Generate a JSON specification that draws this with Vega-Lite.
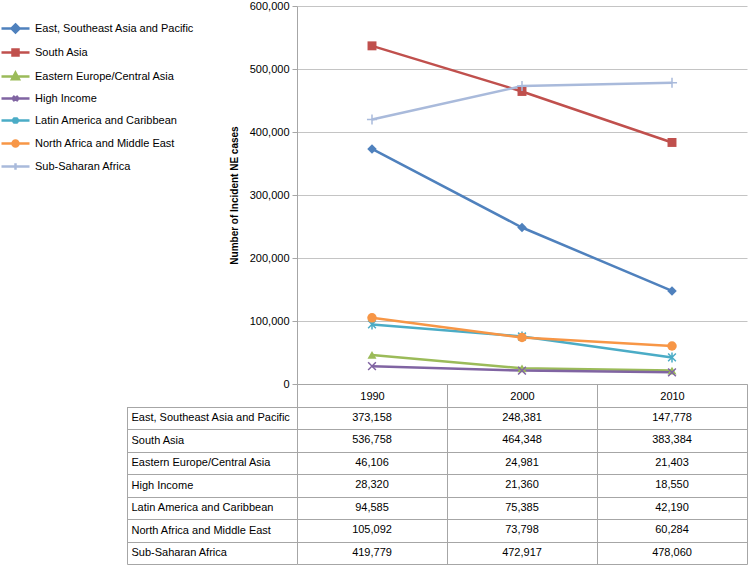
{
  "$schema": "https://vega.github.io/schema/vega-lite/v6.json",
  "width": 450,
  "height": 558,
  "padding": 0,
  "background": "white",
  "config": {
    "view": {"stroke": null},
    "font": "Liberation Sans"
  },
  "data": {
    "values": [
      {"region": "East, Southeast Asia and Pacific", "year": "1990", "cases": 373158},
      {"region": "East, Southeast Asia and Pacific", "year": "2000", "cases": 248381},
      {"region": "East, Southeast Asia and Pacific", "year": "2010", "cases": 147778},
      {"region": "South Asia", "year": "1990", "cases": 536758},
      {"region": "South Asia", "year": "2000", "cases": 464348},
      {"region": "South Asia", "year": "2010", "cases": 383384},
      {"region": "Eastern Europe/Central Asia", "year": "1990", "cases": 46106},
      {"region": "Eastern Europe/Central Asia", "year": "2000", "cases": 24981},
      {"region": "Eastern Europe/Central Asia", "year": "2010", "cases": 21403},
      {"region": "High Income", "year": "1990", "cases": 28320},
      {"region": "High Income", "year": "2000", "cases": 21360},
      {"region": "High Income", "year": "2010", "cases": 18550},
      {"region": "Latin America and Caribbean", "year": "1990", "cases": 94585},
      {"region": "Latin America and Caribbean", "year": "2000", "cases": 75385},
      {"region": "Latin America and Caribbean", "year": "2010", "cases": 42190},
      {"region": "North Africa and Middle East", "year": "1990", "cases": 105092},
      {"region": "North Africa and Middle East", "year": "2000", "cases": 73798},
      {"region": "North Africa and Middle East", "year": "2010", "cases": 60284},
      {"region": "Sub-Saharan Africa", "year": "1990", "cases": 419779},
      {"region": "Sub-Saharan Africa", "year": "2000", "cases": 472917},
      {"region": "Sub-Saharan Africa", "year": "2010", "cases": 478060}
    ]
  },
  "layer": [
    {
      "encoding": {
        "x": {
          "field": "year", "type": "nominal",
          "scale": {"type": "band", "paddingInner": 0, "paddingOuter": 0},
          "axis": {
            "orient": "bottom", "offset": -180, "tickBand": "extent", "tickSize": 180,
            "tickColor": "#a6a6a6", "domainColor": "#a6a6a6", "labelPadding": -168,
            "labelBaseline": "middle", "labelAngle": 0, "labelFontSize": 11, "labelColor": "#000",
            "title": null, "grid": false
          }
        },
        "y": {
          "field": "cases", "type": "quantitative",
          "scale": {"domain": [0, 600000], "range": [378, 0], "nice": false},
          "axis": {
            "orient": "left", "values": [0, 100000, 200000, 300000, 400000, 500000, 600000],
            "format": ",.0f", "grid": true, "gridColor": "#c4c4c4", "domainColor": "#a6a6a6",
            "tickColor": "#a6a6a6", "tickSize": 5, "labelFontSize": 11, "labelColor": "#000",
            "labelPadding": 3, "title": "Number of Incident NE cases", "titleFontSize": 10,
            "titleFontWeight": "bold", "titleColor": "#000", "titlePadding": 10
          }
        },
        "color": {
          "field": "region", "type": "nominal",
          "scale": {
            "domain": ["East, Southeast Asia and Pacific", "South Asia", "Eastern Europe/Central Asia", "High Income", "Latin America and Caribbean", "North Africa and Middle East", "Sub-Saharan Africa"],
            "range": ["#4F81BD", "#C0504D", "#9BBB59", "#8064A2", "#4BACC6", "#F79646", "#A9BADB"]
          },
          "legend": {
            "orient": "none", "legendX": -297, "legendY": 16, "title": null,
            "labelFont": "Liberation Sans", "labelFontSize": 11, "labelColor": "#000",
            "symbolSize": 100, "symbolStrokeWidth": 2.5, "symbolOpacity": 1,
            "rowPadding": 6, "labelOffset": 22
          }
        }
      },
      "layer": [
        {"mark": {"type": "line", "strokeWidth": 2.5}},
        {
          "mark": {"type": "point", "filled": true, "size": 100, "opacity": 0},
          "encoding": {
            "shape": {
              "field": "region", "type": "nominal",
              "scale": {
                "domain": ["East, Southeast Asia and Pacific", "South Asia", "Eastern Europe/Central Asia", "High Income", "Latin America and Caribbean", "North Africa and Middle East", "Sub-Saharan Africa"],
                "range": [
                  "M-1,0L4.6,0M1.8,-0.8L2.6,0L1.8,0.8L1,0Z",
                  "M-1,0L4.6,0M1.2,-0.6L2.4,-0.6L2.4,0.6L1.2,0.6Z",
                  "M-1,0L4.6,0M1.8,-0.75L2.5,0.55L1.1,0.55Z",
                  "M-1,0L4.6,0M1.3,-0.5L2.3,0.5M1.3,0.5L2.3,-0.5",
                  "M-1,0L4.6,0M1.3,-0.5L2.3,0.5M1.3,0.5L2.3,-0.5M1.8,-0.65L1.8,0.65",
                  "M-1,0L4.6,0M1.2,0A0.6,0.6,0,1,0,2.4,0A0.6,0.6,0,1,0,1.2,0Z",
                  "M-1,0L4.6,0M1.8,-0.65L1.8,0.65"
                ]
              }
            }
          }
        },
        {
          "transform": [{"filter": "datum.region === 'East, Southeast Asia and Pacific'"}],
          "mark": {"type": "point", "shape": "diamond", "filled": true, "size": 90, "opacity": 1}
        },
        {
          "transform": [{"filter": "datum.region === 'South Asia'"}],
          "mark": {"type": "point", "shape": "square", "filled": true, "size": 80, "opacity": 1}
        },
        {
          "transform": [{"filter": "datum.region === 'Eastern Europe/Central Asia'"}],
          "mark": {"type": "point", "shape": "triangle-up", "filled": true, "size": 80, "opacity": 1}
        },
        {
          "transform": [{"filter": "datum.region === 'High Income'"}],
          "mark": {"type": "point", "shape": "M-1,-1L1,1M-1,1L1,-1", "filled": false, "strokeWidth": 1.5, "size": 60, "opacity": 1}
        },
        {
          "transform": [{"filter": "datum.region === 'Latin America and Caribbean'"}],
          "mark": {"type": "point", "shape": "M-1,-1L1,1M-1,1L1,-1M0,-1.3L0,1.3", "filled": false, "strokeWidth": 1.5, "size": 60, "opacity": 1}
        },
        {
          "transform": [{"filter": "datum.region === 'North Africa and Middle East'"}],
          "mark": {"type": "point", "shape": "circle", "filled": true, "size": 90, "opacity": 1}
        },
        {
          "transform": [{"filter": "datum.region === 'Sub-Saharan Africa'"}],
          "mark": {"type": "point", "shape": "M-1.3,0L1.3,0M0,-1.3L0,1.3", "filled": false, "strokeWidth": 1.5, "size": 60, "opacity": 1}
        }
      ]
    },
    {
      "mark": {"type": "text", "align": "center", "baseline": "middle", "fontSize": 11, "color": "#000"},
      "encoding": {
        "x": {"field": "year", "type": "nominal"},
        "y": {
          "field": "region", "type": "nominal",
          "scale": {
            "type": "band",
            "domain": ["East, Southeast Asia and Pacific", "South Asia", "Eastern Europe/Central Asia", "High Income", "Latin America and Caribbean", "North Africa and Middle East", "Sub-Saharan Africa"],
            "range": [400.5, 558], "paddingInner": 0, "paddingOuter": 0
          },
          "axis": {
            "orient": "left", "offset": 170, "tickBand": "extent", "tickSize": -170,
            "grid": true, "gridColor": "#a6a6a6", "tickColor": "#a6a6a6", "domainColor": "#a6a6a6",
            "labelAlign": "left", "labelPadding": 166, "labelFontSize": 11, "labelColor": "#000",
            "labelLimit": 170, "title": null
          }
        },
        "text": {"field": "cases", "type": "quantitative", "format": ",.0f"}
      }
    }
  ],
  "resolve": {"scale": {"y": "independent"}, "axis": {"y": "independent"}}
}
